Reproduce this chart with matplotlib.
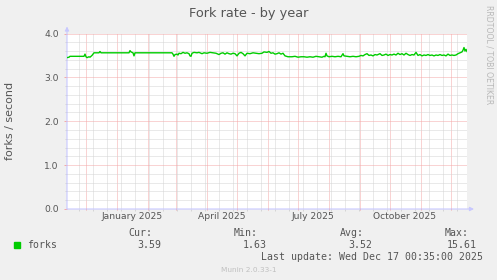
import numpy as np
import matplotlib
matplotlib.use('Agg')
import matplotlib.pyplot as plt
import matplotlib.dates as mdates
from matplotlib.patches import Rectangle

W, H = 497, 280

# forks per second, sampled at day offsets from the graph start
start = np.datetime64('2024-11-12T00:35')
end = np.datetime64('2025-12-17T00:35')
days = [0, 2, 3, 17, 18, 19, 20, 22, 23, 25, 27, 32, 33, 34, 61, 62, 63, 64, 66, 67, 68,
        105, 106, 107, 108, 110, 111, 112, 114, 116, 118, 120, 122, 123, 124, 125, 127, 130,
        132, 135, 137, 140, 143, 146, 149, 152, 154, 156, 158, 160, 162, 164, 166, 168, 170,
        172, 174, 176, 178, 180, 183, 186, 189, 192, 195, 197, 200, 202, 204, 206, 208, 210,
        212, 214, 216, 218, 221, 225, 228, 231, 234, 237, 240, 243, 246, 249, 252, 255, 257,
        258, 259, 260, 262, 265, 268, 271, 274, 276, 277, 280, 283, 286, 289, 292, 294, 296,
        298, 300, 302, 304, 306, 308, 310, 313, 315, 317, 319, 321, 323, 325, 327, 329, 331,
        333, 335, 337, 339, 341, 343, 345, 347, 349, 351, 353, 355, 357, 359, 361, 363, 365,
        367, 369, 371, 373, 375, 377, 379, 381, 383, 385, 387, 389, 391, 393, 395, 396, 397,
        398, 399, 400]
forks = [3.45, 3.46, 3.48, 3.48, 3.53, 3.47, 3.45, 3.47, 3.46, 3.50, 3.56, 3.56, 3.59, 3.56,
         3.56, 3.56, 3.61, 3.58, 3.56, 3.49, 3.56,
         3.56, 3.53, 3.48, 3.52, 3.53, 3.51, 3.55, 3.54, 3.57, 3.55, 3.56, 3.54, 3.49, 3.48,
         3.55, 3.57, 3.56, 3.57, 3.54, 3.56, 3.55, 3.57, 3.56, 3.55, 3.52, 3.55, 3.56, 3.53,
         3.56, 3.54, 3.53, 3.55, 3.54, 3.49, 3.55, 3.57, 3.54, 3.49, 3.55, 3.54, 3.56, 3.55,
         3.54, 3.55, 3.58, 3.57, 3.59, 3.55, 3.56, 3.53, 3.54, 3.56, 3.53, 3.55, 3.49, 3.47,
         3.47, 3.48, 3.46, 3.47, 3.47, 3.46, 3.47, 3.46, 3.48, 3.47, 3.46, 3.48, 3.47, 3.55,
         3.49, 3.47, 3.48, 3.47, 3.48, 3.47, 3.54, 3.49, 3.48, 3.47, 3.48, 3.47, 3.48, 3.50,
         3.49, 3.52, 3.54, 3.50, 3.51, 3.49, 3.52, 3.51, 3.54, 3.50, 3.51, 3.53, 3.50, 3.52,
         3.51, 3.53, 3.51, 3.55, 3.52, 3.54, 3.51, 3.55, 3.52, 3.50, 3.52, 3.51, 3.57, 3.50,
         3.52, 3.49, 3.51, 3.50, 3.52, 3.50, 3.51, 3.49, 3.51, 3.50, 3.52, 3.50, 3.51, 3.49,
         3.53, 3.50, 3.51, 3.50, 3.51, 3.54, 3.56, 3.58, 3.62, 3.68, 3.60, 3.64, 3.59]

month_labels = ['January 2025', 'April 2025', 'July 2025', 'October 2025']
label_dates = ['2025-01-16', '2025-04-16', '2025-07-16', '2025-10-16']

legend_cols = ['Cur:', 'Min:', 'Avg:', 'Max:']
legend_vals = ['3.59', '1.63', '3.52', '15.61']
last_update = 'Last update: Wed Dec 17 00:35:00 2025'

FONT = '#555555'
t = start + np.array(days).astype('timedelta64[D]')


def fx(px):
    return px / W


def fy(py):
    return 1 - py / H


fig = plt.figure(figsize=(W / 100, H / 100), dpi=100, facecolor='#F0F0F0')
ax = fig.add_axes([fx(67), fy(209), fx(467) - fx(67), fy(33.5) - fy(209)])
ax.set_facecolor('white')

ax.plot(t.astype('datetime64[m]'), forks, color='#00CC00', lw=1.0, zorder=5)
ax.set_xlim(start, end)
ax.set_ylim(0, 4.0)

ax.xaxis.set_major_locator(mdates.MonthLocator())
ax.xaxis.set_minor_locator(mdates.WeekdayLocator(byweekday=mdates.SU, interval=2))
ax.yaxis.set_major_locator(plt.MultipleLocator(1.0))
ax.yaxis.set_minor_locator(plt.MultipleLocator(0.2))
ax.xaxis.set_major_formatter(plt.NullFormatter())
ax.yaxis.set_major_formatter(plt.FormatStrFormatter('%.1f'))

ax.grid(True, which='major', color='#F4A8A8', lw=0.72, ls=(0, (1, 1)))
ax.grid(True, which='minor', color='#D4D4D4', lw=0.72, ls=(0, (1, 1)))
ax.set_axisbelow(True)

ax.tick_params(axis='both', which='major', length=2, width=0.7, color='#F4A8A8',
               labelsize=6.6, labelcolor=FONT, pad=4)
ax.tick_params(axis='both', which='minor', length=1.5, width=0.7, color='#D4D4D4')
ax.tick_params(axis='x', direction='inout')
for s in ax.spines.values():
    s.set_visible(False)

# month labels sit mid-month, like rrdtool does
for lab, d in zip(month_labels, label_dates):
    ax.text(np.datetime64(d + 'T00:00'), -0.043, lab, transform=ax.get_xaxis_transform(),
            ha='center', va='center', fontsize=6.6, color=FONT)

# axis arrows
arrow = dict(arrowstyle='-|>', color='#C8C8FF', lw=0.8, mutation_scale=6, shrinkA=0, shrinkB=0)
ax.annotate('', xy=(0, 1 + 7 / 175), xytext=(0, 0), xycoords='axes fraction',
            arrowprops=arrow, annotation_clip=False)
ax.annotate('', xy=(1 + 7 / 400, 0), xytext=(0, 0), xycoords='axes fraction',
            arrowprops=arrow, annotation_clip=False)

fig.text(fx(248.5), fy(13.5), 'Fork rate - by year', ha='center', va='center',
         fontsize=9.3, color=FONT)
fig.text(fx(10), fy(121), 'forks / second', rotation=90, ha='center', va='center',
         fontsize=8, color=FONT)
fig.text(fx(488.5), fy(5), 'RRDTOOL / TOBI OETIKER', rotation=270, ha='center', va='top',
         fontsize=5.6, color='#B8B8B8')

# legend block
mono = dict(family='DejaVu Sans Mono', fontsize=7.1, color=FONT, va='center')
fig.add_artist(Rectangle((fx(14), fy(248)), fx(6), 6 / H, transform=fig.transFigure,
                         color='#00CC00'))
fig.text(fx(27), fy(245), 'forks', ha='left', **mono)
head_right = [152, 258, 364, 469]
val_right = [161, 267, 372, 477]
for name, val, hr, vr in zip(legend_cols, legend_vals, head_right, val_right):
    fig.text(fx(hr), fy(233.5), name, ha='right', **mono)
    fig.text(fx(vr), fy(245), val, ha='right', **mono)
fig.text(fx(483), fy(257), last_update, ha='right', **mono)
fig.text(fx(248.5), fy(269.5), 'Munin 2.0.33-1', ha='center', va='center',
         fontsize=5.3, color='#C0C0C0')

fig.savefig('out.png', dpi=100, facecolor=fig.get_facecolor())
